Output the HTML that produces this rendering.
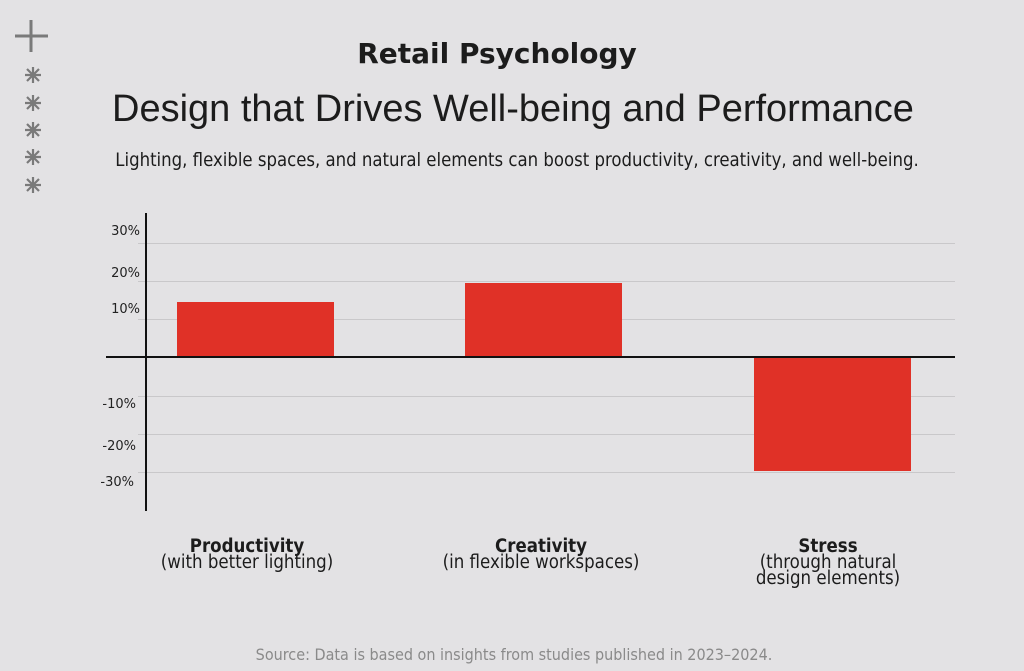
<!DOCTYPE html>
<html><head><meta charset="utf-8"><style>
body{margin:0;width:1024px;height:671px;background:#e3e2e4;overflow:hidden;position:relative;font-family:"DejaVu Sans","Liberation Sans",sans-serif;color:#1c1c1c}
.a{position:absolute;white-space:nowrap}
.c{font-stretch:condensed;text-align:center}
.g{position:absolute;left:138px;width:817px;height:1px;background:#c9c8ca}
.t{position:absolute;width:40px;text-align:right;font-size:13px;color:#222}
.b{position:absolute;background:#e03127}
</style></head><body>
<svg class="a" style="left:14px;top:18px" width="36" height="36"><path d="M17 2V34M1 18H34" stroke="#7a7a7a" stroke-width="3"/></svg>
<svg class="a" style="left:22px;top:65px" width="22" height="130" stroke="#7a7a7a" stroke-width="2.2">
<g id="s"><path d="M11 2V18M3 10H19M5 4L17 16M17 4L5 16"/></g>
<use href="#s" y="28"/><use href="#s" y="55"/><use href="#s" y="82"/><use href="#s" y="110"/>
</svg>
<div class="a" style="left:0;width:994px;top:37px;text-align:center;font-size:28px;font-weight:bold">Retail Psychology</div>
<div class="a" style="left:112px;width:800px;top:88px;text-align:center;font-size:38px;font-family:'Liberation Sans','DejaVu Sans',sans-serif">Design that Drives Well-being and Performance</div>
<div class="a" style="left:112px;width:810px;top:150px;text-align:center;font-size:18.4px;font-stretch:condensed">Lighting, flexible spaces, and natural elements can boost productivity, creativity, and well-being.</div>
<div class="g" style="top:243px"></div><div class="g" style="top:281px"></div><div class="g" style="top:319px"></div>
<div class="g" style="top:396px"></div><div class="g" style="top:434px"></div><div class="g" style="top:472px"></div>
<div class="t" style="left:100px;top:224px">30%</div>
<div class="t" style="left:100px;top:266px">20%</div>
<div class="t" style="left:100px;top:302px">10%</div>
<div class="t" style="left:96px;top:397px">-10%</div>
<div class="t" style="left:96px;top:439px">-20%</div>
<div class="t" style="left:94px;top:475px">-30%</div>
<div class="b" style="left:177px;top:302px;width:157px;height:55px"></div>
<div class="b" style="left:465px;top:283px;width:157px;height:74px"></div>
<div class="b" style="left:754px;top:357px;width:157px;height:114px"></div>
<div class="a" style="left:145px;top:213px;width:2px;height:298px;background:#111"></div>
<div class="a" style="left:106px;top:356px;width:849px;height:2px;background:#111"></div>
<div class="a c" style="left:147px;width:200px;top:539px;font-size:18.5px;line-height:16px"><b>Productivity</b><br>(with better lighting)</div>
<div class="a c" style="left:441px;width:200px;top:539px;font-size:18.5px;line-height:16px"><b>Creativity</b><br>(in flexible workspaces)</div>
<div class="a c" style="left:728px;width:200px;top:539px;font-size:18.5px;line-height:16px"><b>Stress</b><br>(through natural<br>design elements)</div>
<div class="a c" style="left:0;width:1028px;top:645px;font-size:16px;color:#8a8a8a">Source: Data is based on insights from studies published in 2023–2024.</div>
</body></html>
